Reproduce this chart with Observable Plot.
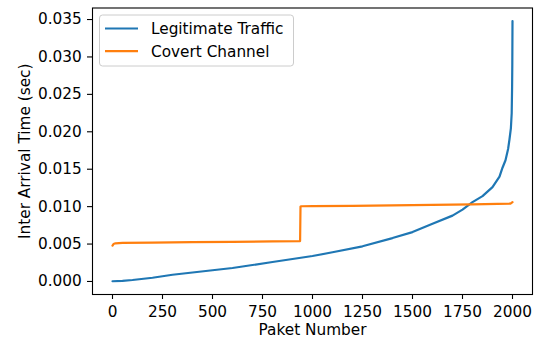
<!DOCTYPE html>
<html><head><meta charset="utf-8">
<script src="https://cdn.jsdelivr.net/npm/d3@7"></script>
<script src="https://cdn.jsdelivr.net/npm/@observablehq/plot@0.6"></script>
<style>html,body{margin:0;padding:0;background:#fff}#chart svg{display:block}</style>
</head><body><div id="chart"></div>
<script>
const seriesNames = ["Legitimate Traffic", "Covert Channel"];
const seriesColors = ["#1f77b4", "#ff7f0e"];

const legitX = [0, 50, 100, 200, 300, 400, 500, 600, 700, 800, 900, 1000, 1100, 1250, 1400, 1500, 1600, 1700, 1750, 1800, 1850, 1900, 1935, 1950, 1965, 1978, 1985, 1992, 1996, 1998, 1999, 2000];
const legitY = [0.00003, 0.00008, 0.0002, 0.0005, 0.0009, 0.0012, 0.0015, 0.0018, 0.0022, 0.0026, 0.0030, 0.0034, 0.0039, 0.0047, 0.0058, 0.0066, 0.0077, 0.0088, 0.0096, 0.0106, 0.0114, 0.0126, 0.0140, 0.0152, 0.0162, 0.0177, 0.0190, 0.0205, 0.0225, 0.0260, 0.0290, 0.0348];

const covertX = [0, 5, 15, 50, 200, 400, 600, 800, 938, 940, 945, 1000, 1200, 1500, 1800, 1990, 2000];
const covertY = [0.0048, 0.0050, 0.0051, 0.00515, 0.0052, 0.00525, 0.0053, 0.00535, 0.0054, 0.0100, 0.01005, 0.01007, 0.0101, 0.0102, 0.0103, 0.0104, 0.0106];

const xTicks = [0, 250, 500, 750, 1000, 1250, 1500, 1750, 2000];
const yTicks = [0, 0.005, 0.010, 0.015, 0.020, 0.025, 0.030, 0.035];
const xLabel = "Paket Number";
const yLabel = "Inter Arrival Time (sec)";

const legit = legitX.map((x, i) => ({x, y: legitY[i]}));
const covert = covertX.map((x, i) => ({x, y: covertY[i]}));

const FS = 15.3;
const plot = Plot.plot({
  width: 537, height: 338,
  marginLeft: 92, marginRight: 5, marginTop: 7.5, marginBottom: 44,
  style: {fontFamily: "'DejaVu Sans', sans-serif", fontSize: FS + "px", background: "white", color: "black"},
  x: {domain: [-100, 2100]},
  y: {domain: [-0.00174, 0.03654]},
  marks: [
    Plot.axisX({ticks: xTicks, tickSize: 5, tickPadding: 7, label: null, fontSize: FS, tickFormat: d => String(d), strokeWidth: 1.1}),
    Plot.axisY({ticks: yTicks, tickSize: 5, tickPadding: 5.8, label: null, fontSize: FS, tickFormat: d3.format(".3f"), strokeWidth: 1.1}),
    Plot.line(legit, {x: "x", y: "y", stroke: seriesColors[0], strokeWidth: 2.2}),
    Plot.line(covert, {x: "x", y: "y", stroke: seriesColors[1], strokeWidth: 2.2}),
    Plot.frame({stroke: "black", strokeWidth: 1.1}),
    Plot.text([xLabel], {text: d => d, frameAnchor: "bottom", dy: 40, lineAnchor: "bottom", textAnchor: "middle", fontSize: FS}),
    Plot.text([yLabel], {text: d => d, frameAnchor: "left", rotate: -90, dx: -63, lineAnchor: "bottom", textAnchor: "middle", fontSize: FS})
  ]
});
document.getElementById("chart").appendChild(plot);

// legend (matplotlib style, upper left)
const svg = d3.select(plot);
const lg = svg.append("g").attr("font-family", "'DejaVu Sans', sans-serif").attr("font-size", FS).attr("text-anchor", "start");
lg.append("rect").attr("x", 99.5).attr("y", 15).attr("width", 194).attr("height", 51).attr("rx", 3)
  .attr("fill", "white").attr("fill-opacity", 0.8).attr("stroke", "#cccccc").attr("stroke-width", 1);
seriesNames.forEach((name, i) => {
  const cy = 28.5 + i * 22.6;
  lg.append("line").attr("x1", 105).attr("x2", 138).attr("y1", cy).attr("y2", cy)
    .attr("stroke", seriesColors[i]).attr("stroke-width", 2.2);
  lg.append("text").attr("x", 151).attr("y", cy + 5.8).attr("fill", "black").attr("text-anchor", "start").text(name);
});
</script></body></html>
